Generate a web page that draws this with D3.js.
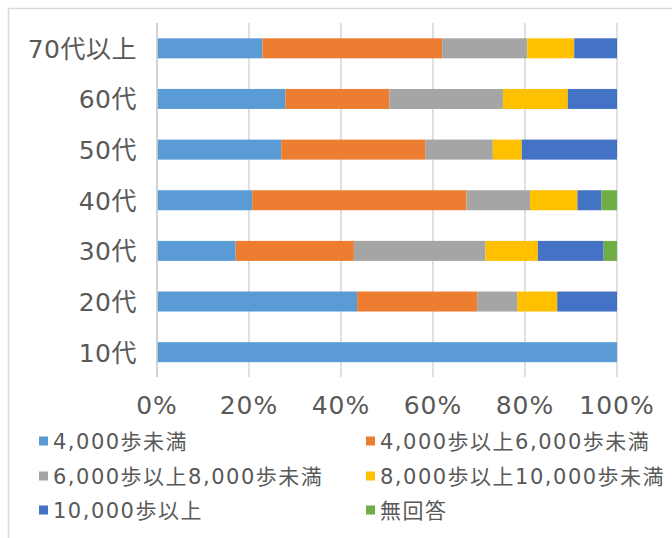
<!DOCTYPE html>
<html>
<head>
<meta charset="utf-8">
<script src="https://cdn.jsdelivr.net/npm/d3@7"></script>
<style>
  html, body { margin: 0; padding: 0; background: #fff; }
  svg { display: block; }
  text { font-family: "DejaVu Sans", "Noto Sans CJK JP", sans-serif; fill: #595959; }
</style>
</head>
<body>
<svg id="chart" width="672" height="538"></svg>
<script>
// Age groups, top to bottom
const categories = ["70代以上", "60代", "50代", "40代", "30代", "20代", "10代"];

// Daily step-count groups (legend order)
const seriesNames = [
  "4,000歩未満",
  "4,000歩以上6,000歩未満",
  "6,000歩以上8,000歩未満",
  "8,000歩以上10,000歩未満",
  "10,000歩以上",
  "無回答"
];
const seriesColors = ["#5b9bd5", "#ed7d31", "#a5a5a5", "#ffc000", "#4472c4", "#70ad47"];

// Share (%) of each age group, one array per step group, in category order
const under4000      = [22.9, 27.9, 27.0, 20.7, 17.1, 43.5, 100];
const from4000to6000 = [39.1, 22.6, 31.3, 46.6, 25.7, 26.1, 0];
const from6000to8000 = [18.5, 24.7, 14.7, 13.8, 28.6, 8.7, 0];
const from8000to10000= [10.2, 14.1, 6.3, 10.3, 11.4, 8.7, 0];
const over10000      = [9.3, 10.7, 20.7, 5.2, 14.3, 13.0, 0];
const noAnswer       = [0, 0, 0, 3.4, 2.9, 0, 0];

const tickValues = [0, 20, 40, 60, 80, 100];

const seriesValues = [under4000, from4000to6000, from6000to8000, from8000to10000, over10000, noAnswer];

const svg = d3.select("#chart");

// Chart frame
svg.append("rect")
  .attr("x", 8.5).attr("y", 8.5)
  .attr("width", 700).attr("height", 600)
  .attr("fill", "none").attr("stroke", "#d9d9d9").attr("stroke-width", 1.5);

const x = d3.scaleLinear().domain([0, 100]).range([157, 617]);
const y = d3.scaleBand().domain(categories).range([23, 377.5])
  .paddingInner(0.605).paddingOuter(0.3025);

// Vertical gridlines
svg.append("g").selectAll("line")
  .data(tickValues)
  .join("line")
  .attr("x1", d => x(d)).attr("x2", d => x(d))
  .attr("y1", 23).attr("y2", 377)
  .attr("stroke", "#d9d9d9").attr("stroke-width", 1.6);

// Stack the series
const rows = categories.map((c, i) => {
  const r = { cat: c };
  seriesNames.forEach((s, j) => { r[s] = seriesValues[j][i]; });
  return r;
});
const stacked = d3.stack().keys(seriesNames)(rows);

svg.append("g").selectAll("g")
  .data(stacked)
  .join("g")
  .attr("fill", (d, i) => seriesColors[i])
  .selectAll("rect")
  .data(d => d.filter(p => p[1] - p[0] > 0))
  .join("rect")
  .attr("x", d => x(d[0]))
  .attr("width", d => x(d[1]) - x(d[0]))
  .attr("y", d => y(d.data.cat))
  .attr("height", y.bandwidth());

// Category axis line
svg.append("line")
  .attr("x1", x(0)).attr("x2", x(0))
  .attr("y1", 23).attr("y2", 377)
  .attr("stroke", "#d0d0d0").attr("stroke-width", 1.6);

// Category labels
svg.append("g").selectAll("text")
  .data(categories)
  .join("text")
  .attr("x", 137)
  .attr("y", d => y(d) + y.bandwidth() / 2)
  .attr("dy", "0.38em")
  .attr("text-anchor", "end")
  .style("font-size", "25px")
  .style("letter-spacing", "0.5px")
  .text(d => d);

// Value axis tick labels
svg.append("g").selectAll("text")
  .data(tickValues)
  .join("text")
  .attr("x", d => x(d))
  .attr("y", 414)
  .attr("text-anchor", "middle")
  .style("font-size", "25px")
  .style("letter-spacing", "1px")
  .text(d => d + "%");

// Legend: two columns, three rows
const legendCols = [39, 366];
const legendRows = [441, 476, 510];
const legend = svg.append("g").selectAll("g")
  .data(seriesNames)
  .join("g")
  .attr("transform", (d, i) => `translate(${legendCols[i % 2]},${legendRows[Math.floor(i / 2)]})`);
legend.append("rect")
  .attr("x", 0).attr("y", -4.5)
  .attr("width", 9).attr("height", 9)
  .attr("fill", (d, i) => seriesColors[i]);
legend.append("text")
  .attr("x", 14)
  .attr("dy", "0.36em")
  .style("font-size", "21px")
  .style("letter-spacing", "1.5px")
  .text(d => d);
</script>
</body>
</html>
